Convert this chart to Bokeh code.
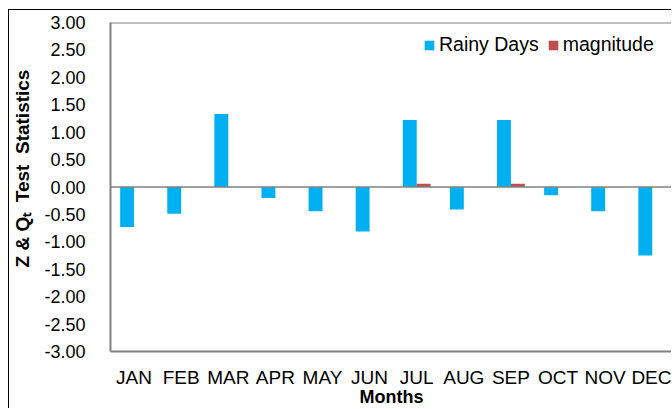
from bokeh.plotting import figure
from bokeh.models import (ColumnDataSource, Range1d, FixedTicker, NumeralTickFormatter,
                          Span, Legend, LegendItem)
from bokeh.embed import file_html
from bokeh.resources import INLINE

months = ["JAN", "FEB", "MAR", "APR", "MAY", "JUN", "JUL", "AUG", "SEP", "OCT", "NOV", "DEC"]
rainy_days = [-0.73, -0.49, 1.33, -0.20, -0.44, -0.81, 1.22, -0.41, 1.22, -0.15, -0.44, -1.25]
magnitude = [0.0, 0.0, 0.0, 0.0, 0.0, 0.0, 0.06, 0.0, 0.06, 0.0, 0.0, 0.0]
y_ticks = [-3.0, -2.5, -2.0, -1.5, -1.0, -0.5, 0.0, 0.5, 1.0, 1.5, 2.0, 2.5, 3.0]

FONT = "Liberation Sans"
BLUE = "#00B0F0"
RED = "#C0504D"
GRAY = "#808080"
NB = "\u00a0"

pos = list(range(1, len(months) + 1))
bw = 0.295
src = ColumnDataSource(dict(
    xb=[p_ - bw / 2 for p_ in pos],
    xr=[p_ + bw / 2 for p_ in pos],
    rainy=rainy_days,
    mag=magnitude,
))

p = figure(width=663, height=399, output_backend="svg", toolbar_location=None,
           x_range=Range1d(0.5, 0.5 + 11.93), y_range=Range1d(-3, 3),
           min_border_left=97, min_border_top=12, min_border_right=0, min_border_bottom=58)
p.styles = {"margin-left": "8px", "margin-top": "9px",
            "border-left": "1px solid #000", "border-top": "1px solid #000"}
p.background_fill_color = "white"
p.border_fill_color = "white"
p.outline_line_color = None
p.xgrid.visible = False
p.ygrid.visible = False

rb = p.vbar(x="xb", top="rainy", bottom=0, width=bw, source=src, fill_color=BLUE, line_color=None)
rr = p.vbar(x="xr", top="mag", bottom=0, width=bw, source=src, fill_color=RED, line_color=None)

# zero line and top border of the plot area
p.add_layout(Span(location=0, dimension="width", line_color=GRAY, line_width=1.5))
p.add_layout(Span(location=3, dimension="width", line_color=GRAY, line_width=2))

# y axis
ya = p.yaxis[0]
ya.ticker = FixedTicker(ticks=y_ticks)
ya.formatter = NumeralTickFormatter(format="0.00")
ya.major_tick_line_color = None
ya.minor_tick_line_color = None
ya.axis_line_color = GRAY
ya.axis_line_width = 2
ya.major_label_text_font = FONT
ya.major_label_text_font_size = "18px"
ya.major_label_text_color = "#000000"
ya.major_label_standoff = 19
# leading no-break spaces shift the title upwards, as in the reference
ya.axis_label = NB * 7 + "Z & Q\u209c " + NB + "Test " + NB + "Statistics"
ya.axis_label_text_font = FONT
ya.axis_label_text_font_size = "19px"
ya.axis_label_text_font_style = "bold"
ya.axis_label_text_color = "#000000"
ya.axis_label_standoff = 8

# x axis
xa = p.xaxis[0]
xa.ticker = FixedTicker(ticks=pos)
xa.major_label_overrides = {p_: m for p_, m in zip(pos, months)}
xa.major_tick_line_color = None
xa.minor_tick_line_color = None
xa.axis_line_color = GRAY
xa.axis_line_width = 2
xa.major_label_text_font = FONT
xa.major_label_text_font_size = "19px"
xa.major_label_text_color = "#000000"
xa.major_label_standoff = 9
xa.axis_label = "Months"
xa.axis_label_text_font = FONT
xa.axis_label_text_font_size = "18px"
xa.axis_label_text_font_style = "bold"
xa.axis_label_text_color = "#000000"
xa.axis_label_standoff = -4

legend = Legend(items=[LegendItem(label="Rainy Days", renderers=[rb]),
                       LegendItem(label="magnitude", renderers=[rr])],
                orientation="horizontal", location=(313, 295),
                margin=0, padding=0, spacing=8, label_standoff=4,
                glyph_width=12, glyph_height=12,
                label_text_font=FONT, label_text_font_size="19.5px",
                label_text_color="#000000",
                border_line_color=None, background_fill_alpha=0)
p.add_layout(legend)

open("out.html", "w").write(file_html(p, INLINE))
